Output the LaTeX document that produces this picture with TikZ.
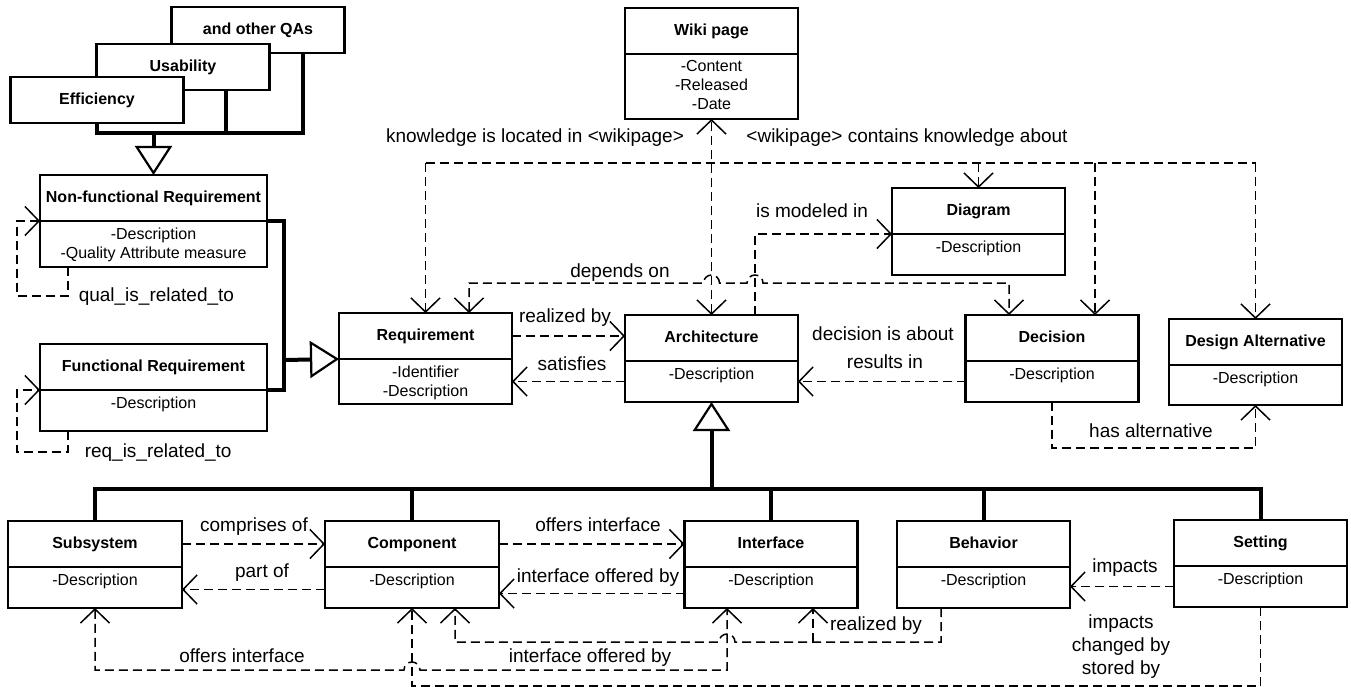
\documentclass[tikz,border=0pt]{standalone}
\usepackage{fontspec}
\setmainfont{Liberation Sans}
\usetikzlibrary{positioning, arrows.meta}

\begin{document}
\begin{tikzpicture}[x=1pt, y=-1pt, >={Straight Barb[length=14pt, width=29pt]}]
    \tikzstyle{cls}=[
        draw, fill=white,
        line width=2.2pt,
        anchor=north,
        minimum width=173pt, minimum height=46pt,
        inner sep=0pt, outer sep=0pt,
        text height=12pt, text depth=3.5pt,
        font=\bfseries\fontsize{16}{19}\selectfont
    ]
    \tikzstyle{attr}=[
        draw,
        line width=2.2pt,
        minimum width=173pt,
        inner xsep=0pt, inner ysep=4pt, outer sep=0pt,
        align=center, text height=14pt,
        font=\fontsize{16}{19}\selectfont
    ]
    \tikzstyle{assoc}=[line width=1.5pt, dash pattern=on 9pt off 5pt]
    \tikzstyle{gen}=[line width=4pt]
    \tikzstyle{gtip}=[-{Triangle[open, length=29pt, width=37pt, line width=2.2pt]}]
    \tikzstyle{lbl}=[inner sep=0pt, text height=14pt, text depth=4pt, font=\fontsize{19}{23}\selectfont]

    \useasboundingbox (0,0) rectangle (1351,687);

    % quality attributes
    \node[cls] (qas) at (258,7) {and other QAs};
    \node[cls] (use) at (183,44) {Usability};
    \node[cls] (eff) at (97,77) {Efficiency};

    % classes
    \node[cls, minimum width=227pt] (nfr) at (153.5,175) {Non-functional Requirement};
    \node[attr, minimum width=227pt, text height=33pt, text depth=5pt, below=0pt of nfr] (nfr-a) {-Description\\-Quality Attribute measure};
    \node[cls, minimum width=227pt] (fr) at (153.5,344) {Functional Requirement};
    \node[attr, minimum width=227pt, text depth=19pt, below=0pt of fr] (fr-a) {-Description};

    \node[cls] (wiki) at (711.5,8) {Wiki page};
    \node[attr, text height=52pt, text depth=5pt, below=0pt of wiki] (wiki-a) {-Content\\-Released\\-Date};
    \node[cls] (dia) at (978.5,188) {Diagram};
    \node[attr, text depth=19pt, below=0pt of dia] (dia-a) {-Description};

    \node[cls] (req) at (425.5,313) {Requirement};
    \node[attr, text height=33pt, text depth=4pt, below=0pt of req] (req-a) {-Identifier\\-Description};
    \node[cls] (arch) at (711.5,315) {Architecture};
    \node[attr, text depth=19pt, below=0pt of arch] (arch-a) {-Description};
    \node[cls] (dec) at (1052,315) {Decision};
    \node[attr, text depth=19pt, below=0pt of dec] (dec-a) {-Description};
    \node[cls] (da) at (1255.5,319) {Design Alternative};
    \node[attr, text depth=18pt, below=0pt of da] (da-a) {-Description};

    \node[cls, minimum width=174pt] (sub) at (95,521) {Subsystem};
    \node[attr, minimum width=174pt, text depth=19pt, below=0pt of sub] (sub-a) {-Description};
    \node[cls, minimum width=174pt] (comp) at (412,521) {Component};
    \node[attr, minimum width=174pt, text depth=19pt, below=0pt of comp] (comp-a) {-Description};
    \node[cls] (intf) at (771,521) {Interface};
    \node[attr, text depth=19pt, below=0pt of intf] (intf-a) {-Description};
    \node[cls] (beh) at (983.5,521) {Behavior};
    \node[attr, text depth=19pt, below=0pt of beh] (beh-a) {-Description};
    \node[cls] (set) at (1260.5,520) {Setting};
    \node[attr, text depth=19pt, below=0pt of set] (set-a) {-Description};

    % generalizations
    \coordinate (qabar) at (153.5,133);
    \coordinate (fj) at (284,360);
    \coordinate (bus) at (0,489);
    \draw[gen] (eff.south) |- ([xshift=45pt]qas.south |- qabar) -- ([xshift=45pt]qas.south);
    \draw[gen] ([xshift=43pt]use.south) -- ([xshift=43pt]use.south |- qabar);
    \draw[gen, gtip] (qabar) -- (nfr.north);
    \draw[gen] (nfr.south east) -| (fj |- fr.south east) -- (fr.south east);
    \draw[gen, gtip] (fj) -- (req.south west);
    \draw[gen] (sub.north) |- (bus -| set.north) -- (set.north);
    \foreach \n in {comp, intf, beh}
        \draw[gen] (\n.north) -- (\n.north |- bus);
    \draw[gen, gtip] (arch-a.south |- bus) -- (arch-a.south);

    % associations
    \coordinate (kn) at (0,163);
    \coordinate (dep) at (0,283);
    \coordinate (oi) at (0,670);
    \coordinate (rb) at (0,642);
    \coordinate (sb) at (0,686);

    \draw[assoc, ->] ([xshift=28pt]nfr-a.south west) -- ++(0,29)
        node[lbl, right=10pt] (l-qual) {qual\_is\_related\_to} -- ++(-51,0) |- (nfr.south west);
    \draw[assoc, ->] ([xshift=28pt]fr-a.south west) -- ++(0,21)
        node[lbl, right=16pt] (l-rel) {req\_is\_related\_to} -- ++(-51,0) |- (fr.south west);

    \draw[assoc] (req.north |- kn) -- (da.north |- kn);
    \draw[assoc, ->] (req.north |- kn) -- (req.north);
    \draw[assoc, ->] (dia.north |- kn) -- (dia.north);
    \draw[assoc, ->] ([xshift=43pt]dec.north |- kn) -- ([xshift=43pt]dec.north);
    \draw[assoc, ->] (da.north |- kn) -- (da.north);
    \draw[assoc, <->] (arch.north) -- (wiki-a.south);

    \draw[assoc, ->] ([xshift=43.5pt]arch.north) |- (dia.south west);
    \draw[assoc, <->] ([xshift=43.5pt]req.north) |- ([xshift=-8pt]arch.north |- dep)
        arc[start angle=180, end angle=0, radius=8pt]
        -- ([xshift=35.5pt]arch.north |- dep)
        arc[start angle=180, end angle=0, radius=8pt]
        -| ([xshift=-43pt]dec.north);

    \draw[assoc, ->] (req.east) -- (req.east -| arch.west);
    \draw[assoc, ->] (arch-a.west) -- (arch-a.west -| req-a.east);
    \draw[assoc, ->] (dec-a.west) -- (dec-a.west -| arch-a.east);
    \draw[assoc, ->] (dec-a.south) -- ++(0,46) -| (da-a.south);

    \draw[assoc, ->] (sub.east) -- (sub.east -| comp.west);
    \draw[assoc, ->] ([yshift=-2pt]comp-a.west) -- ([yshift=-2pt]comp-a.west -| sub-a.east);
    \draw[assoc, ->] (comp.east) -- (comp.east -| intf.west);
    \draw[assoc, ->] ([yshift=-6pt]intf-a.west) -- ([yshift=-6pt]intf-a.west -| comp-a.east);
    \draw[assoc, ->] (set-a.west) -- (set-a.west -| beh-a.east);

    \draw[assoc, <->] (sub-a.south) |- ([xshift=-8pt]comp-a.south |- oi)
        arc[start angle=180, end angle=0, radius=8pt]
        -| ([xshift=-44pt]intf-a.south);
    \draw[assoc, ->] ([xshift=-42.5pt]beh-a.south) |- ([xshift=-36pt]intf-a.south |- rb)
        arc[start angle=0, end angle=180, radius=8pt]
        -| ([xshift=43pt]comp-a.south);
    \draw[assoc, ->] ([xshift=42pt]intf-a.south |- rb) -- ([xshift=42pt]intf-a.south);
    \draw[assoc, ->] (set-a.south) |- (comp-a.south |- sb) -- (comp-a.south);

    % labels
    \node[lbl] (l-loc) at (535,138) {knowledge is located in <wikipage>};
    \node[lbl] (l-cont) at (907,138) {<wikipage> contains knowledge about};
    \node[lbl] (l-mod) at (812,213) {is modeled in};
    \node[lbl] (l-dep) at (620,272) {depends on};
    \node[lbl] (l-real) at (565,317) {realized by};
    \node[lbl] (l-sat) at (572,365) {satisfies};
    \node[lbl] (l-about) at (883,335) {decision is about};
    \node[lbl] (l-res) at (885,363) {results in};
    \node[lbl] (l-alt) at (1151,432) {has alternative};
    \node[lbl] (l-compr) at (254,526) {comprises of};
    \node[lbl] (l-part) at (262,572) {part of};
    \node[lbl] (l-offer) at (598,526) {offers interface};
    \node[lbl] (l-offby) at (598,577) {interface offered by};
    \node[lbl] (l-offer2) at (242,657) {offers interface};
    \node[lbl] (l-offby2) at (590,657) {interface offered by};
    \node[lbl] (l-real2) at (876,625) {realized by};
    \node[lbl] (l-imp) at (1125,567) {impacts};
    \node[lbl, align=center, text height=60pt, text depth=4pt] (l-set) at (1121,646) {impacts\\changed by\\stored by};
\end{tikzpicture}
\end{document}
